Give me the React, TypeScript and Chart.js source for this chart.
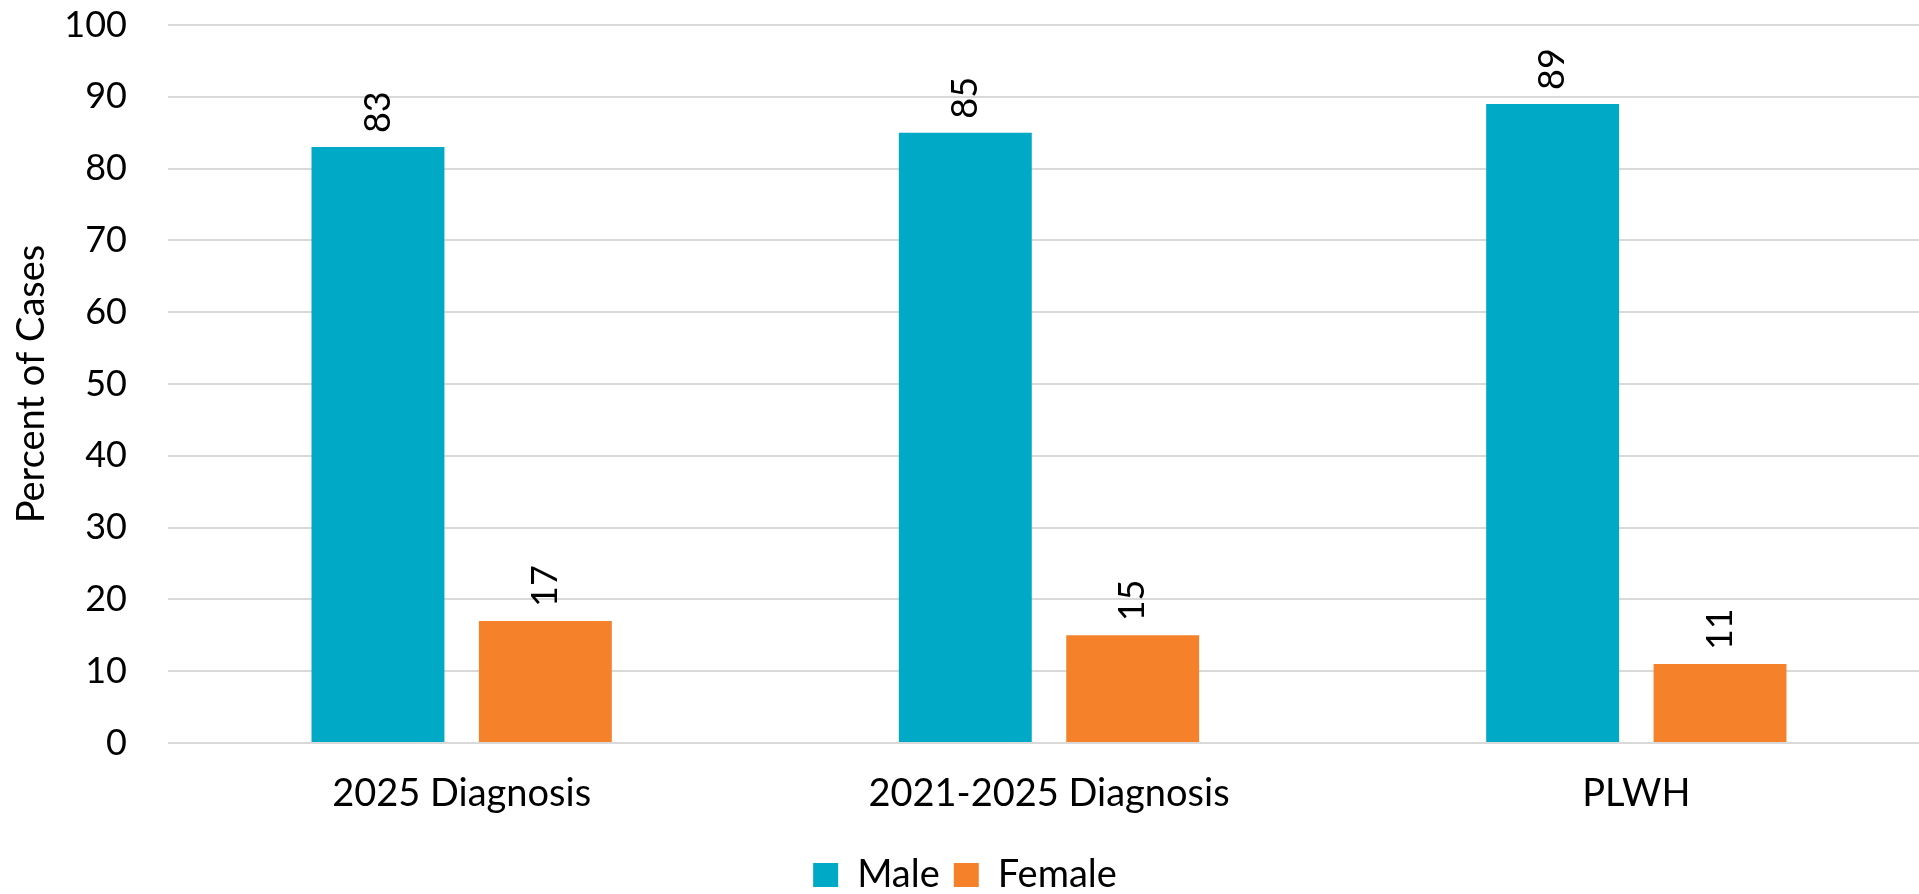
import React, { useEffect, useRef } from "react";
import { Chart, registerables } from "chart.js";

Chart.register(...registerables);

const categories = ["2025 Diagnosis", "2021-2025 Diagnosis", "PLWH"];
const maleValues = [83, 85, 89];
const femaleValues = [17, 15, 11];
const seriesNames = ["Male", "Female"];
const yTicks = [0, 10, 20, 30, 40, 50, 60, 70, 80, 90, 100];

const FONT = "Lato, 'Open Sans', sans-serif";
const CANVAS_W = 1930;
const CANVAS_H = 894;

const valueLabels = {
  id: "valueLabels",
  afterDatasetsDraw(chart: any) {
    const ctx = chart.ctx;
    ctx.save();
    ctx.font = `36px ${FONT}`;
    ctx.fillStyle = "#000000";
    ctx.textAlign = "left";
    ctx.textBaseline = "middle";
    chart.data.datasets.forEach((ds: any, di: number) => {
      const meta = chart.getDatasetMeta(di);
      meta.data.forEach((bar: any, i: number) => {
        ctx.save();
        ctx.translate(bar.x, bar.y - 14);
        ctx.rotate(-Math.PI / 2);
        ctx.fillText(String(ds.data[i]), 0, 0);
        ctx.restore();
      });
    });
    ctx.restore();
  },
};

export default function App() {
  const ref = useRef<HTMLCanvasElement | null>(null);

  useEffect(() => {
    document.body.style.margin = "0";
    document.body.style.overflow = "hidden";
    document.documentElement.style.overflow = "hidden";
    if (!ref.current) return;
    const chart = new Chart(ref.current, {
      type: "bar",
      data: {
        labels: categories,
        datasets: [
          {
            label: seriesNames[0],
            data: maleValues,
            backgroundColor: "#00A9C6",
            categoryPercentage: 0.57,
            barPercentage: 0.794,
          },
          {
            label: seriesNames[1],
            data: femaleValues,
            backgroundColor: "#F5822A",
            categoryPercentage: 0.57,
            barPercentage: 0.794,
          },
        ],
      },
      options: {
        responsive: false,
        animation: false,
        devicePixelRatio: 1,
        layout: { padding: { top: 25, right: 0, left: 0, bottom: -10 } },
        plugins: {
          legend: {
            position: "bottom",
            labels: {
              font: { family: FONT, size: 38 },
              color: "#000000",
              boxWidth: 25,
              boxHeight: 24,
              padding: 14,
            },
          },
          tooltip: { enabled: false },
        },
        scales: {
          x: {
            afterFit: (scale: any) => {
              scale.height = 99;
            },
            grid: { display: false },
            border: { display: false },
            ticks: {
              font: { family: FONT, size: 38 },
              color: "#000000",
              padding: 20,
            },
          },
          y: {
            min: 0,
            max: 100,
            afterBuildTicks: (scale: any) => {
              scale.ticks = yTicks.map((v) => ({ value: v }));
            },
            afterFit: (scale: any) => {
              scale.width = 168;
              scale.paddingTop = 0;
              scale.paddingBottom = 0;
            },
            grid: { color: "#D9D9D9", lineWidth: 2, drawTicks: false },
            border: { display: false },
            ticks: {
              font: { family: FONT, size: 36 },
              color: "#000000",
              padding: 41,
            },
            title: {
              display: true,
              text: "Percent of Cases",
              font: { family: FONT, size: 38 },
              color: "#000000",
              padding: { top: 9, bottom: 0 },
            },
          },
        },
      },
      plugins: [valueLabels],
    });
    return () => chart.destroy();
  }, []);

  return (
    <div style={{ width: CANVAS_W, height: CANVAS_H, overflow: "hidden" }}>
      <canvas ref={ref} width={CANVAS_W} height={CANVAS_H} style={{ display: "block" }} />
    </div>
  );
}
